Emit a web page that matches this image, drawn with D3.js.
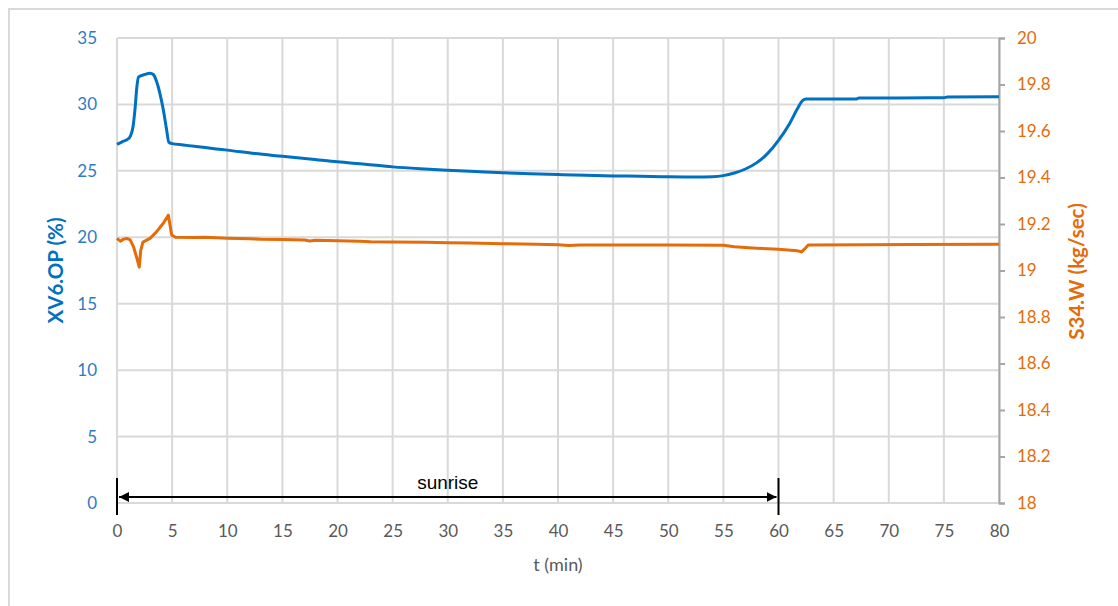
<!DOCTYPE html>
<html>
<head>
<meta charset="utf-8">
<script src="https://cdn.jsdelivr.net/npm/d3@7"></script>
<style>
  html, body { margin: 0; padding: 0; background: #fff; }
  svg { display: block; }
</style>
</head>
<body>
<svg id="chart" width="1118" height="606"></svg>
<script>
// ---- Data ----
const xTicks = [0,5,10,15,20,25,30,35,40,45,50,55,60,65,70,75,80];
const leftTicks = [0,5,10,15,20,25,30,35];
const rightTicks = [18,18.2,18.4,18.6,18.8,19,19.2,19.4,19.6,19.8,20];
const rightTickLabels = ["18","18.2","18.4","18.6","18.8","19","19.2","19.4","19.6","19.8","20"];

// XV6.OP (%) : [t (min), value]
const xv6 = [
  [0,27.0],[0.5,27.2],[1.0,27.4],[1.2,27.6],[1.45,28.3],[1.65,29.8],[1.8,31.3],[1.95,32.05],
  [2.5,32.25],[3.0,32.35],[3.3,32.25],[3.6,31.7],[3.9,30.8],[4.2,29.6],[4.5,28.1],[4.7,27.15],
  [5.0,27.05],[6,26.95],[7,26.85],[8,26.75],[9,26.65],[10,26.56],[12.5,26.3],[15,26.1],
  [17.5,25.9],[20,25.68],[22.5,25.5],[25,25.3],[27.5,25.16],[30,25.05],[32.5,24.95],[35,24.85],
  [37.5,24.78],[40,24.72],[42.5,24.66],[45,24.62],[47.5,24.59],[50,24.55],[52.5,24.54],[54,24.56],
  [55,24.64],[56,24.84],[57,25.14],[58,25.6],[59,26.3],[60,27.3],[61,28.55],[61.7,29.65],
  [62.2,30.3],[62.5,30.4],[67,30.4],[67.3,30.48],[75,30.5],[75.3,30.56],[80,30.58]
];

// S34.W (kg/sec) : [t (min), value]
const s34 = [
  [0,19.138],[0.3,19.126],[0.6,19.135],[0.9,19.138],[1.2,19.132],[1.5,19.102],[1.85,19.045],
  [2.02,19.014],[2.15,19.085],[2.35,19.122],[3.0,19.138],[3.6,19.167],[4.2,19.203],[4.66,19.238],
  [4.96,19.153],[5.3,19.143],[7,19.142],[8,19.143],[10,19.139],[12,19.137],[13,19.134],[15,19.133],
  [17,19.131],[17.5,19.127],[18,19.130],[20,19.128],[22,19.126],[23,19.124],[25,19.123],[28,19.121],
  [30,19.119],[32,19.118],[35,19.115],[38,19.113],[40,19.111],[41,19.108],[42,19.110],[45,19.110],
  [50,19.110],[55,19.109],[56,19.102],[58,19.096],[60,19.091],[61.7,19.085],[62.1,19.080],
  [62.45,19.097],[62.7,19.110],[68,19.111],[72,19.112],[80,19.113]
];

// ---- Layout ----
const svg = d3.select("#chart");
const x = d3.scaleLinear().domain([0,80]).range([117,999]);
const yL = d3.scaleLinear().domain([0,35]).range([503,38]);
const yR = d3.scaleLinear().domain([18,20]).range([503,38]);

const blue = "#0070C0", orange = "#E46C0A", grid = "#d9d9d9";
const font = "Lato, 'Open Sans', sans-serif";

// outer frame
svg.append("rect").attr("x",9).attr("y",9).attr("width",1130).attr("height",620)
  .attr("fill","none").attr("stroke","#d9d9d9").attr("stroke-width",2);

// gridlines
svg.append("g").selectAll("line").data(xTicks).join("line")
  .attr("x1",d=>x(d)).attr("x2",d=>x(d)).attr("y1",yL(35)).attr("y2",yL(0))
  .attr("stroke",grid).attr("stroke-width",2);
svg.append("g").selectAll("line").data(leftTicks).join("line")
  .attr("x1",x(0)).attr("x2",x(80)).attr("y1",d=>yL(d)).attr("y2",d=>yL(d))
  .attr("stroke",grid).attr("stroke-width",2);

// right axis
const rAxis = svg.append("g").attr("transform",`translate(${x(80)},0)`)
  .call(d3.axisRight(yR).tickValues(rightTicks).tickSize(6).tickPadding(12)
    .tickFormat((d,i)=>rightTickLabels[i]));
rAxis.select(".domain").attr("stroke","#a6a6a6").attr("stroke-width",2);
rAxis.selectAll(".tick line").attr("stroke","#a6a6a6").attr("stroke-width",2);
rAxis.selectAll(".tick text").attr("fill",orange).attr("font-size",17).attr("font-family",font);

// left axis
const lAxis = svg.append("g").attr("transform",`translate(${x(0)},0)`)
  .call(d3.axisLeft(yL).tickValues(leftTicks).tickSize(0).tickPadding(20));
lAxis.select(".domain").remove();
lAxis.selectAll(".tick text").attr("fill","#2E7BC4").attr("font-size",17).attr("font-family",font);

// bottom axis
const bAxis = svg.append("g").attr("transform",`translate(0,${yL(0)})`)
  .call(d3.axisBottom(x).tickValues(xTicks).tickSize(0).tickPadding(22));
bAxis.select(".domain").remove();
bAxis.selectAll(".tick text").attr("fill","#595959").attr("font-size",17).attr("font-family",font);

// axis titles
svg.append("text").attr("x",558).attr("y",571).attr("text-anchor","middle")
  .attr("fill","#595959").attr("font-size",18).attr("font-family",font).text("t (min)");
svg.append("text").attr("transform","translate(63,270.5) rotate(-90)").attr("text-anchor","middle")
  .attr("fill",blue).attr("font-size",20.5).attr("font-weight","bold").attr("font-family",font).text("XV6.OP (%)");
svg.append("text").attr("transform","translate(1084,271.5) rotate(-90)").attr("text-anchor","middle")
  .attr("fill",orange).attr("font-size",20.5).attr("font-weight","bold").attr("font-family",font).text("S34.W (kg/sec)");

// lines
const lineL = d3.line().x(d=>x(d[0])).y(d=>yL(d[1])).curve(d3.curveMonotoneX);
const lineR = d3.line().x(d=>x(d[0])).y(d=>yR(d[1])).curve(d3.curveLinear);
svg.append("path").datum(s34).attr("d",lineR).attr("fill","none")
  .attr("stroke",orange).attr("stroke-width",3).attr("stroke-linejoin","round");
svg.append("path").datum(xv6).attr("d",lineL).attr("fill","none")
  .attr("stroke",blue).attr("stroke-width",3).attr("stroke-linejoin","round");

// sunrise annotation
const defs = svg.append("defs");
defs.append("marker").attr("id","arrE").attr("viewBox","0 0 10 10").attr("refX",10).attr("refY",5)
  .attr("markerWidth",5).attr("markerHeight",5).attr("orient","auto")
  .append("path").attr("d","M0,0 L10,5 L0,10 z").attr("fill","#000");
defs.append("marker").attr("id","arrS").attr("viewBox","0 0 10 10").attr("refX",0).attr("refY",5)
  .attr("markerWidth",5).attr("markerHeight",5).attr("orient","auto")
  .append("path").attr("d","M10,0 L0,5 L10,10 z").attr("fill","#000");
const sunStart = 0, sunEnd = 60;
[sunStart, sunEnd].forEach(t => {
  svg.append("line").attr("x1",x(t)).attr("x2",x(t)).attr("y1",478).attr("y2",515)
    .attr("stroke","#000").attr("stroke-width",2);
});
svg.append("line").attr("x1",x(sunStart)+2).attr("x2",x(sunEnd)-2).attr("y1",497).attr("y2",497)
  .attr("stroke","#000").attr("stroke-width",2)
  .attr("marker-start","url(#arrS)").attr("marker-end","url(#arrE)");
svg.append("text").attr("x",(x(sunStart)+x(sunEnd))/2).attr("y",489).attr("text-anchor","middle")
  .attr("fill","#000").attr("font-size",19).attr("font-family","'Liberation Sans Narrow', 'Liberation Sans', Arial, sans-serif")
  .text("sunrise");
</script>
</body>
</html>
